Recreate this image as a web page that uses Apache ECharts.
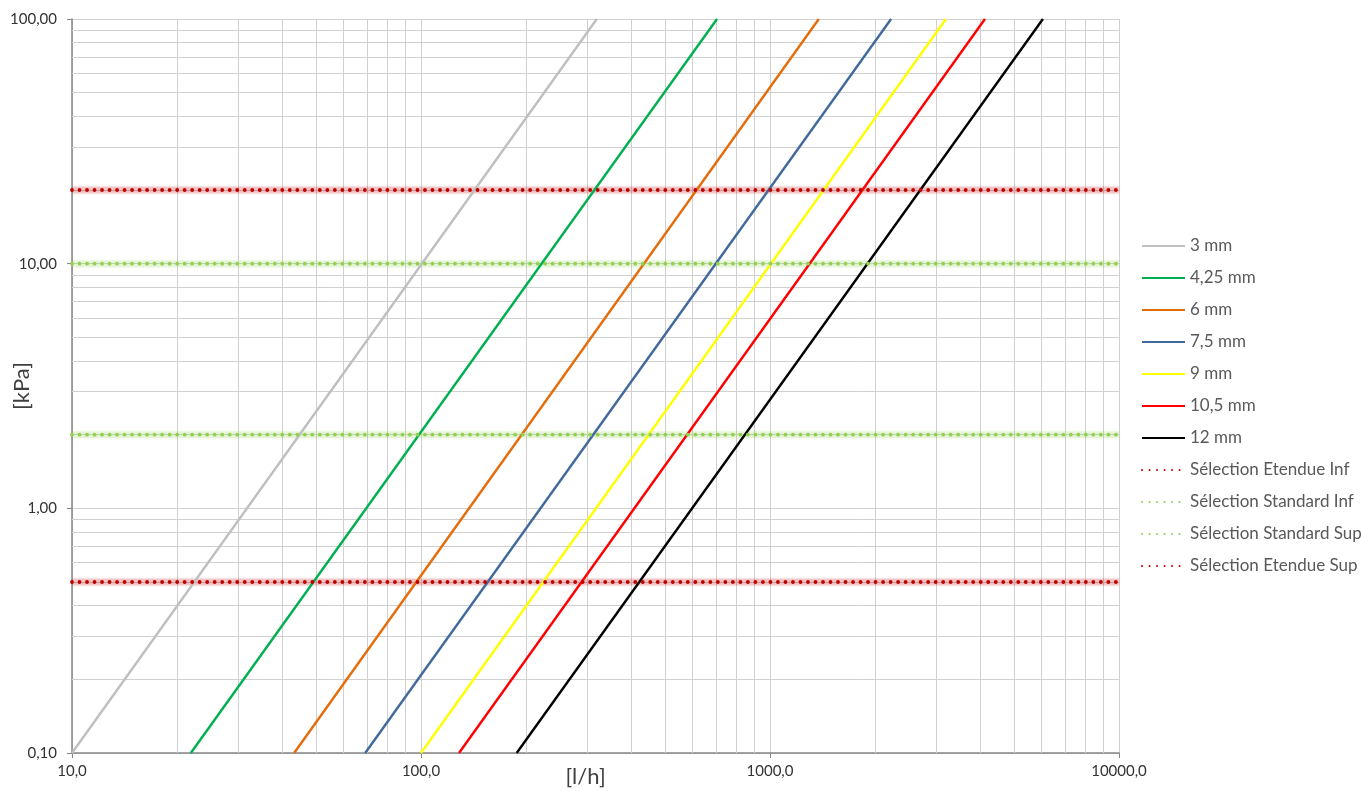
<!DOCTYPE html>
<html>
<head>
<meta charset="utf-8">
<script src="https://cdn.jsdelivr.net/npm/echarts@6/dist/echarts.min.js"></script>
<style>
  html, body { margin: 0; padding: 0; background: #fff; }
  #chart { width: 1361px; height: 791px; }
</style>
</head>
<body>
<div id="chart"></div>
<script>
// Pressure-drop curves: flow [l/h] at the lower and upper pressure ends of each curve
const pressureEnds = [0.1, 100];           // kPa
const diameters = ['3 mm', '4,25 mm', '6 mm', '7,5 mm', '9 mm', '10,5 mm', '12 mm'];
const flow3 = [10, 319];
const flow425 = [21.9, 705];
const flow6 = [43.3, 1380];
const flow75 = [69.2, 2223];
const flow9 = [100, 3192];
const flow105 = [128.5, 4130];
const flow12 = [188, 6053];
const curveColors = ['#bfbfbf', '#00b050', '#e46c0a', '#41699c', '#ffff00', '#ff0000', '#000000'];

// Selection thresholds [kPa]
const selectionNames = ['Sélection Etendue Inf', 'Sélection Standard Inf', 'Sélection Standard Sup', 'Sélection Etendue Sup'];
const selectionValues = [0.5, 2, 10, 20];
const selectionColors = ['#c00000', '#92d050', '#92d050', '#c00000'];
const flowRange = [10, 10000];

// Intermediate grid lines of each decade
const xMinorGrid = [20, 30, 40, 50, 60, 70, 80, 90, 200, 300, 400, 500, 600, 700, 800, 900,
                    2000, 3000, 4000, 5000, 6000, 7000, 8000, 9000];
const yMinorGrid = [0.2, 0.3, 0.4, 0.5, 0.6, 0.7, 0.8, 0.9, 2, 3, 4, 5, 6, 7, 8, 9,
                    20, 30, 40, 50, 60, 70, 80, 90];

const flows = [flow3, flow425, flow6, flow75, flow9, flow105, flow12];
const font = 'Lato, "Open Sans", sans-serif';
const gridColor = '#d0d0d0';
const axisColor = '#878787';

const series = [];

// grid lines inside each decade (kept beneath the curves)
series.push({
  type: 'line', name: '_grid', data: [], silent: true, z: 1,
  markLine: {
    silent: true, symbol: ['none', 'none'], animation: false, z: 1,
    label: { show: false },
    lineStyle: { color: gridColor, width: 1, type: 'solid' },
    emphasis: { disabled: true },
    data: xMinorGrid.map(v => ({ xAxis: v })).concat(yMinorGrid.map(v => ({ yAxis: v })))
  }
});

diameters.forEach((name, i) => {
  series.push({
    type: 'line', name: name, z: 3,
    data: flows[i].map((q, k) => [q, pressureEnds[k]]),
    symbol: 'none', showSymbol: false,
    lineStyle: { color: curveColors[i], width: 2.4 },
    itemStyle: { color: curveColors[i] },
    emphasis: { disabled: true },
    animation: false
  });
});

selectionNames.forEach((name, i) => {
  const pts = flowRange.map(q => [q, selectionValues[i]]);
  // soft halo behind the dotted threshold line
  series.push({
    type: 'line', name: name + ' (halo)', z: 2, silent: true,
    data: pts, symbol: 'none',
    lineStyle: {
      color: selectionColors[i], width: 7, opacity: 0.13,
      shadowBlur: 3, shadowColor: selectionColors[i]
    },
    emphasis: { disabled: true }, animation: false
  });
  series.push({
    type: 'line', name: name, z: 4,
    data: pts, symbol: 'none', showSymbol: false,
    lineStyle: { color: selectionColors[i], width: 3.8, type: [0.01, 7.5], cap: 'round' },
    itemStyle: { color: selectionColors[i] },
    emphasis: { disabled: true }, animation: false
  });
});

const chart = echarts.init(document.getElementById('chart'), null, { renderer: 'canvas' });
chart.setOption({
  animation: false,
  backgroundColor: '#ffffff',
  textStyle: { fontFamily: font },
  grid: { left: 72, top: 19, right: 242, bottom: 38, outerBoundsMode: 'none', containLabel: false },
  legend: {
    data: diameters.concat(selectionNames),
    orient: 'vertical',
    left: 1141, top: 237, padding: 0,
    itemWidth: 43, itemHeight: 14, itemGap: 14,
    itemStyle: { opacity: 0 },
    textStyle: { fontFamily: font, fontSize: 17, lineHeight: 18, color: '#595959' },
    selectedMode: false
  },
  xAxis: {
    type: 'log', logBase: 10, min: 10, max: 10000,
    name: '[l/h]', nameLocation: 'middle', nameGap: 13, nameMoveOverlap: false,
    nameTextStyle: { fontFamily: font, fontSize: 22, color: '#404040', padding: [0, 20, 0, 0] },
    axisLine: { lineStyle: { color: axisColor, width: 1.5 } },
    axisTick: { show: true, length: 5, lineStyle: { color: axisColor } },
    axisLabel: {
      margin: 11, fontSize: 15, color: '#333',
      formatter: v => v.toFixed(1).replace('.', ',')
    },
    splitLine: { show: true, lineStyle: { color: gridColor, width: 1 } },
    minorTick: { show: false }, minorSplitLine: { show: false }
  },
  yAxis: {
    type: 'log', logBase: 10, min: 0.1, max: 100,
    name: '[kPa]', nameLocation: 'middle', nameGap: 39, nameRotate: 90, nameMoveOverlap: false,
    nameTextStyle: { fontFamily: font, fontSize: 22, color: '#404040' },
    axisLine: { show: true, lineStyle: { color: axisColor, width: 1.5 } },
    axisTick: { show: true, length: 5, lineStyle: { color: axisColor } },
    axisLabel: {
      margin: 15, fontSize: 15, color: '#333',
      formatter: v => v.toFixed(2).replace('.', ',')
    },
    splitLine: { show: true, lineStyle: { color: gridColor, width: 1 } },
    minorTick: { show: false }, minorSplitLine: { show: false }
  },
  series: series
});
</script>
</body>
</html>
